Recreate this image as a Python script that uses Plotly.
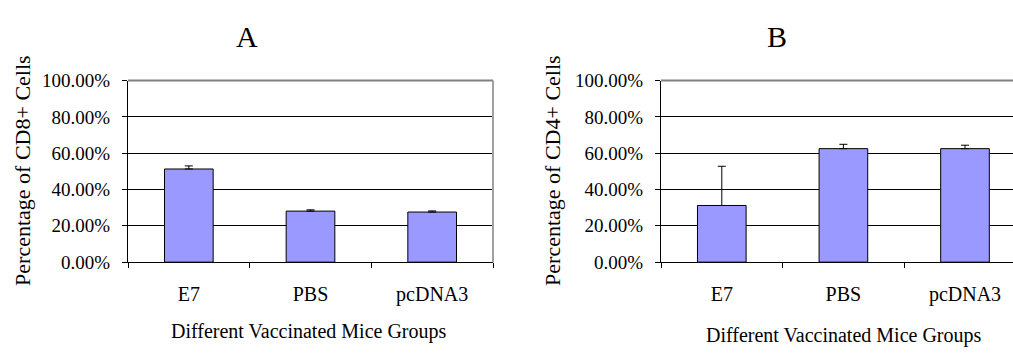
import plotly.graph_objects as go

groups = ["E7", "PBS", "pcDNA3"]
cd8_values = [51.3, 28.1, 27.6]
cd8_errors = [1.7, 0.7, 0.6]
cd4_values = [31.2, 62.5, 62.5]
cd4_errors = [21.6, 2.4, 1.9]
y_tick_vals = [0, 20, 40, 60, 80, 100]
y_tick_text = ["0.00%", "20.00%", "40.00%", "60.00%", "80.00%", "100.00%"]

W, H = 1013, 355
FONT = "Liberation Serif"
bar_color = "#9999FF"

fig = go.Figure()
for vals, errs, xa, ya in [(cd8_values, cd8_errors, "x", "y"), (cd4_values, cd4_errors, "x2", "y2")]:
    fig.add_trace(go.Bar(
        x=groups, y=vals, xaxis=xa, yaxis=ya, width=0.4,
        marker=dict(color=bar_color, line=dict(color="black", width=1)),
        error_y=dict(type="data", array=errs, arrayminus=[0]*len(errs), symmetric=False,
                     color="black", thickness=1, width=4),
        showlegend=False, hoverinfo="skip"))

ydom = [1 - 268 / H, 1 - 75 / H]
common_y = dict(range=[0, 100], tickvals=y_tick_vals, ticktext=y_tick_text,
                showgrid=True, gridcolor="black", gridwidth=1, zeroline=False,
                showline=True, linecolor="black", linewidth=1,
                ticks="outside", ticklen=5, tickcolor="black",
                tickfont=dict(family=FONT, size=19, color="black"),
                ticklabelstandoff=8, domain=ydom)
common_x = dict(type="category", showgrid=False, zeroline=False,
                showline=True, linecolor="black", linewidth=1,
                ticks="outside", ticklen=5, tickcolor="black", tickson="boundaries",
                tickfont=dict(family=FONT, size=20, color="black"),
                ticklabelstandoff=14)

x1_dom = [128 / W, 493 / W]
x2_dom = [661 / W, 1.0]
cat_px = 121.6
x2_right = -0.5 + (W - 661) / cat_px

fig.update_layout(
    width=W, height=H, margin=dict(l=0, r=0, t=0, b=0),
    paper_bgcolor="white", plot_bgcolor="white",
    font=dict(family=FONT, color="black"),
    xaxis=dict(domain=x1_dom, range=[-0.5, 2.5], anchor="y", **common_x),
    yaxis=dict(anchor="x", **common_y),
    xaxis2=dict(domain=x2_dom, range=[-0.5, x2_right], anchor="y2", **common_x),
    yaxis2=dict(anchor="x2", **common_y),
    bargap=0.6,
)

# gray frame (top and right)
for xr, yr, right in [("x domain", "y domain", True), ("x2 domain", "y2 domain", False)]:
    fig.add_shape(type="line", xref=xr, yref=yr, x0=0, x1=1, y0=1, y1=1,
                  line=dict(color="#808080", width=2), layer="above")
    if right:
        fig.add_shape(type="line", xref=xr, yref=yr, x0=1, x1=1, y0=0, y1=1,
                      line=dict(color="#A0A0A0", width=2), layer="above")

ann = [
    dict(text="A", x=247 / W, y=1 - 28 / H, size=30),
    dict(text="B", x=777 / W, y=1 - 28 / H, size=30),
    dict(text="Different Vaccinated Mice Groups", x=308 / W, y=1 - 342 / H, size=20),
    dict(text="Different Vaccinated Mice Groups", x=843 / W, y=1 - 346 / H, size=20),
]
for a in ann:
    fig.add_annotation(text=a["text"], x=a["x"], y=a["y"], xref="paper", yref="paper",
                       xanchor="center", yanchor="middle", showarrow=False,
                       font=dict(family=FONT, size=a["size"], color="black"))
for t, xc in [("Percentage of CD8+ Cells", 23), ("Percentage of CD4+ Cells", 553)]:
    fig.add_annotation(text=t, x=xc / W, y=1 - 171 / H, xref="paper", yref="paper",
                       xanchor="center", yanchor="middle", showarrow=False, textangle=-90,
                       font=dict(family=FONT, size=22, color="black"))

fig.write_html("out.html", config={"displayModeBar": False},
               post_script="document.body.style.margin='0';document.body.style.overflow='hidden';")
